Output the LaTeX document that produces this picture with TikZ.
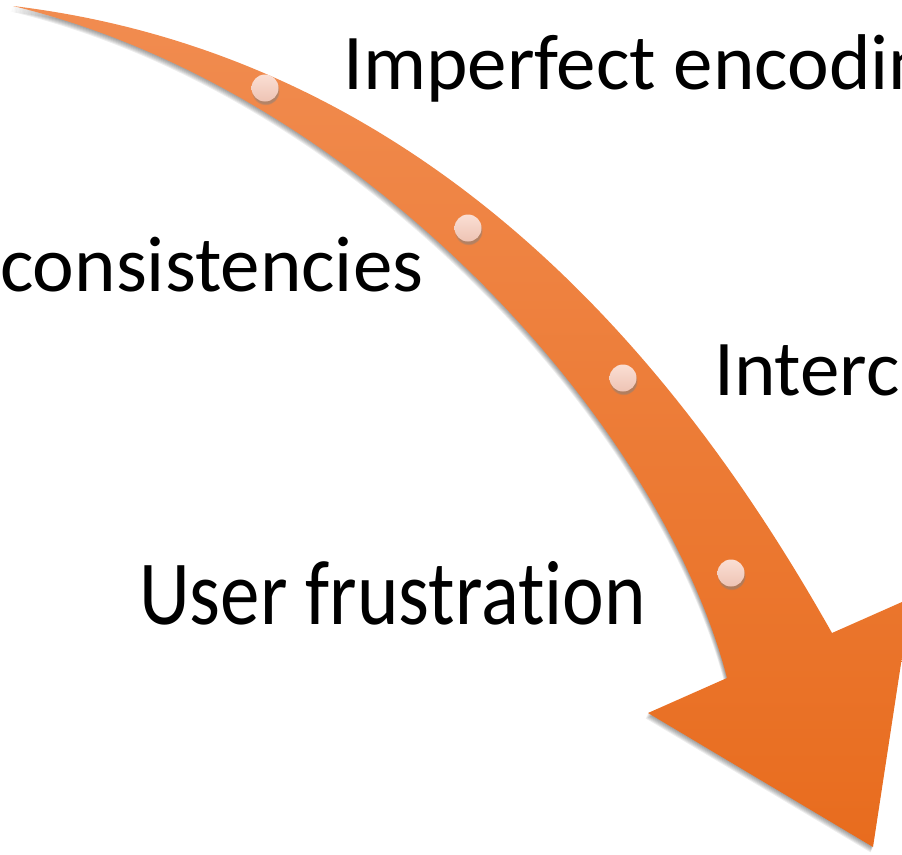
\documentclass[tikz,border=0pt]{standalone}
\usepackage{fontspec}
\setmainfont{Carlito}[Ligatures=NoCommon]
\usepackage{tikz}
\usetikzlibrary{shadows}

\definecolor{arrowtop}{RGB}{241,140,80}
\definecolor{arrowbot}{RGB}{232,108,30}
\definecolor{dottop}{RGB}{250,222,212}
\definecolor{dotbot}{RGB}{238,196,180}

% outline of the bent arrow
\newcommand{\bentarrow}{(13,6) .. controls (463,60) and (709,415) .. (832,633)
  -- (911,598) -- (873,847) -- (648,713) -- (727,678)
  .. controls (660,420) and (360,90) .. (13,6) -- cycle}

\begin{document}
\begin{tikzpicture}[
  x=1pt, y=-1pt,
  lbl/.style={anchor=base west, inner sep=0pt, font=\fontsize{79}{90}\selectfont},
  dot/.style={circle, minimum size=27pt, inner sep=0pt, top color=dottop, bottom color=dotbot,
    circular drop shadow={shadow xshift=0.5pt, shadow yshift=-3pt, shadow scale=1.05, opacity=0.55}}
  ]
\useasboundingbox (0,0) rectangle (902,854);
\clip (0,0) rectangle (902,854);

% soft shadow, then the arrow
\foreach \s in {1,...,6}
  \fill[black, opacity=0.07, xshift=-0.4*\s pt, yshift=-0.9*\s pt] \bentarrow;
\shade[top color=arrowtop, bottom color=arrowbot] \bentarrow;

\node[dot] (d1) at (265,88) {};
\node[dot] (d2) at (468,228) {};
\node[dot] (d3) at (623,378) {};
\node[dot] (d4) at (731,573) {};

\node[lbl] (imperfect) at (343,89) {Imperfect encodin};
\node[lbl] (incons) at (0,291) {consistencies};
\node[lbl] (interc) at (714,395) {Interc};
\node[lbl] (user) at (139,624) {\scalebox{1}[1.16]{User frustration}};

\end{tikzpicture}
\end{document}
